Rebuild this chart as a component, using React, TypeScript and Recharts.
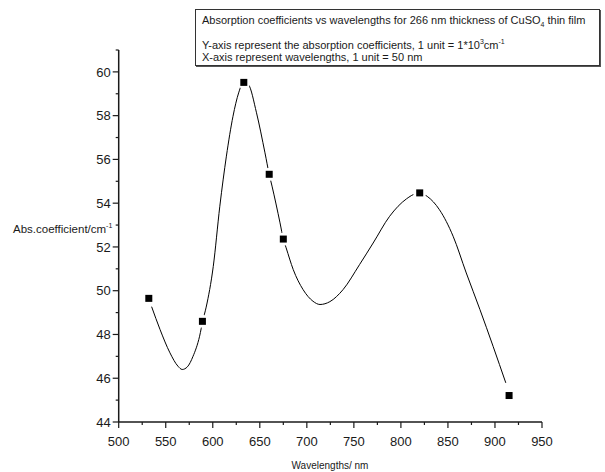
import React from 'react';
import { LineChart, Line, XAxis, YAxis } from 'recharts';

// measured points
const wavelengths = [532, 589, 633, 660, 675, 820, 915];
const absCoeff = [49.65, 48.6, 59.52, 55.32, 52.36, 54.47, 45.21];

// smooth connecting curve
const curveWavelengths = [
  535, 544, 554.5, 563, 567.5, 573, 579, 586, 589.3, 593, 600.5, 607.5, 614.5, 621.5, 627.5, 633, 638, 646.5,
  655.5, 660, 663, 671.5, 675, 678, 685.5, 696, 706.5, 714, 724.5, 738.5, 756, 770.5, 788, 806, 816, 820,
  828, 841, 855.5, 869.5, 884, 898, 911.5,
];
const curveValues = [
  49.27, 48.22, 47.16, 46.55, 46.4, 46.52, 47.0, 47.92, 48.61, 49.25, 51.1, 53.86, 56.15, 57.97, 59.04, 59.55,
  59.42, 58.13, 56.3, 55.32, 54.78, 53.1, 52.36, 51.96, 50.97, 50.05, 49.52, 49.37, 49.5, 50.05, 51.19,
  52.18, 53.4, 54.2, 54.44, 54.47, 54.31, 53.7, 52.49, 50.81, 49.14, 47.46, 45.79,
];

const xTicks = [500, 525, 550, 575, 600, 625, 650, 675, 700, 725, 750, 775, 800, 825, 850, 875, 900, 925, 950];
const yTicks = [44, 45, 46, 47, 48, 49, 50, 51, 52, 53, 54, 55, 56, 57, 58, 59, 60, 61];

const points = wavelengths.map((w, i) => ({ w, a: absCoeff[i] }));
const curve = curveWavelengths.map((w, i) => ({ w, a: curveValues[i] }));

const FONT = '"Liberation Sans", Arial, sans-serif';
const INK = '#1a1a1a';

const YTick = (props: any) => {
  const { x, y, payload } = props;
  const major = payload.value % 2 === 0;
  return (
    <g>
      <line x1={x} x2={x - (major ? 6 : 3)} y1={y} y2={y} stroke={INK} strokeWidth={1.2} />
      {major && (
        <text x={x - 8} y={y} dy="0.36em" textAnchor="end" fontSize={13} fill={INK} fontFamily={FONT}>
          {payload.value}
        </text>
      )}
    </g>
  );
};

const XTick = (props: any) => {
  const { x, y, payload } = props;
  const major = payload.value % 50 === 0;
  return (
    <g>
      <line x1={x} x2={x} y1={y} y2={y + (major ? 6 : 3)} stroke={INK} strokeWidth={1.2} />
      {major && (
        <text x={x} y={y + 24} textAnchor="middle" fontSize={13} fill={INK} fontFamily={FONT}>
          {payload.value}
        </text>
      )}
    </g>
  );
};

const SquareDot = (props: any) => {
  const { cx, cy } = props;
  if (cx == null || cy == null) return <g />;
  return (
    <g>
      <circle cx={cx} cy={cy} r={6.5} fill="#fff" />
      <rect x={cx - 3.5} y={cy - 3.5} width={7} height={7} fill="#000" />
    </g>
  );
};

const lineStyle: React.CSSProperties = {
  position: 'absolute',
  left: 6,
  lineHeight: '13px',
  whiteSpace: 'nowrap',
};

export default function App() {
  return (
    <div style={{ position: 'absolute', left: 0, top: 0, width: 605, height: 472, background: '#fff' }}>
      <LineChart width={605} height={472} margin={{ top: 50, right: 63, bottom: 20, left: 0 }}>
        <XAxis
          dataKey="w"
          type="number"
          domain={[500, 950]}
          ticks={xTicks}
          interval={0}
          height={30}
          tickSize={0}
          tickMargin={0}
          tick={<XTick />}
          axisLine={{ stroke: INK, strokeWidth: 1.5 }}
          tickLine={false}
          allowDataOverflow
        />
        <YAxis
          type="number"
          domain={[44, 61]}
          ticks={yTicks}
          interval={0}
          width={118.7}
          tickSize={0}
          tickMargin={0}
          tick={<YTick />}
          axisLine={{ stroke: INK, strokeWidth: 1.5 }}
          tickLine={false}
          allowDataOverflow
        />
        <Line
          data={curve}
          type="monotone"
          dataKey="a"
          stroke="#000"
          strokeWidth={1}
          dot={false}
          activeDot={false}
          isAnimationActive={false}
        />
        <Line
          data={points}
          type="linear"
          dataKey="a"
          stroke="none"
          dot={<SquareDot />}
          activeDot={false}
          isAnimationActive={false}
        />
      </LineChart>
      <div
        style={{
          position: 'absolute',
          left: 13,
          top: 219,
          fontFamily: FONT,
          fontSize: 11.5,
          lineHeight: '14px',
          color: INK,
          whiteSpace: 'nowrap',
        }}
      >
        Abs.coefficient/cm<sup style={{ fontSize: 7, verticalAlign: 5 }}>-1</sup>
      </div>
      <div
        style={{
          position: 'absolute',
          left: 0,
          width: 660,
          top: 460,
          textAlign: 'center',
          fontFamily: FONT,
          fontSize: 10,
          lineHeight: '12px',
          color: INK,
        }}
      >
        Wavelengths/ nm
      </div>
      <div
        style={{
          position: 'absolute',
          left: 195,
          top: 9,
          width: 405,
          height: 57,
          border: '1px solid #333',
          boxShadow: '1px 1px 0 #555',
          fontFamily: FONT,
          fontSize: 11,
          color: INK,
          boxSizing: 'border-box',
        }}
      >
        <div style={{ ...lineStyle, top: 4 }}>
          Absorption coefficients vs wavelengths for 266 nm thickness of CuSO
          <sub style={{ fontSize: 7, verticalAlign: -3 }}>4</sub> thin film
        </div>
        <div style={{ ...lineStyle, top: 25 }}>
          Y-axis represent the absorption coefficients, 1 unit = 1*10
          <sup style={{ fontSize: 7, verticalAlign: 5 }}>3</sup>cm<sup style={{ fontSize: 7, verticalAlign: 5 }}>-1</sup>
        </div>
        <div style={{ ...lineStyle, top: 41 }}>X-axis represent wavelengths, 1 unit = 50 nm</div>
      </div>
    </div>
  );
}
